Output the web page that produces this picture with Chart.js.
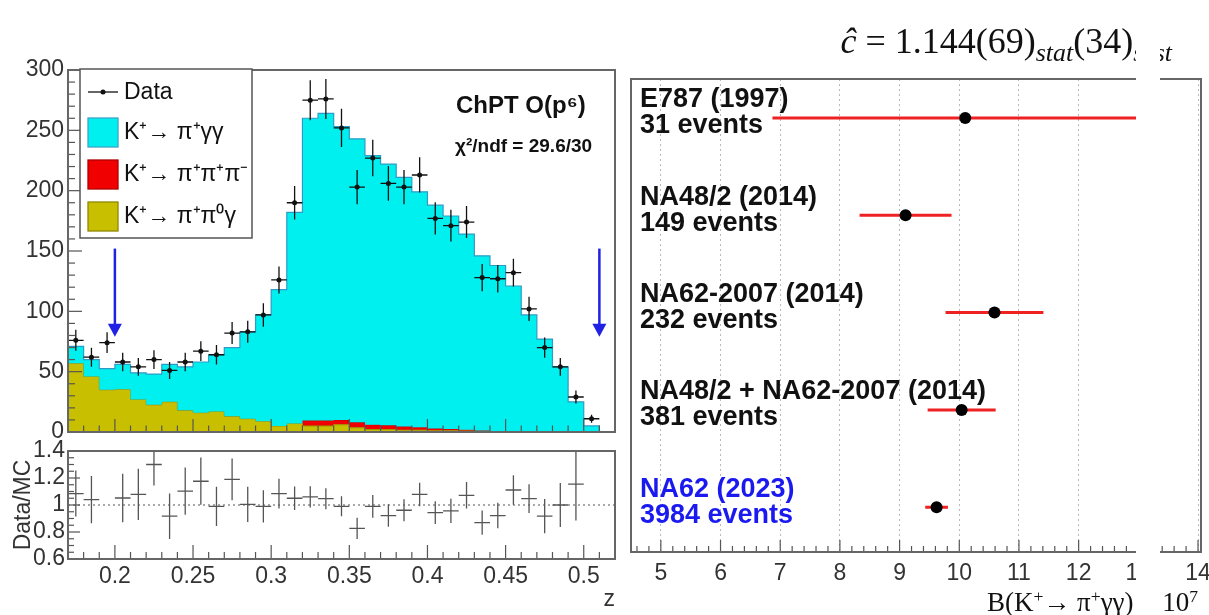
<!DOCTYPE html>
<html>
<head>
<meta charset="utf-8">
<script src="https://cdn.jsdelivr.net/npm/chart.js@4.4.0/dist/chart.umd.min.js"></script>
<style>
  body { margin: 0; width: 1209px; height: 615px; position: relative; overflow: hidden; background: #fff; }
  canvas { position: absolute; }
  #spectrum { left: 0; top: 0; }
  #ratio { left: 0; top: 440px; }
  #summary { left: 625px; top: 0; }
  .serif { position: absolute; font-family: 'Liberation Serif', 'Times New Roman', serif; color: #111; white-space: nowrap; }
  #fitTitle { right: 37px; top: 23px; font-size: 36px; line-height: 36px; }
  #fitTitle sub { font-size: 72%; font-style: italic; vertical-align: -0.3em; line-height: 0; }
  #brTitle { right: 11px; top: 589px; font-size: 27px; line-height: 27px; }
  #brTitle sup { font-size: 65%; vertical-align: 0.5em; line-height: 0; }
  #gap { position: absolute; left: 1136px; top: 0; width: 24px; height: 615px; background: #fff; }
</style>
</head>
<body>
<canvas id="spectrum" width="625" height="440"></canvas>
<canvas id="ratio" width="625" height="175"></canvas>
<canvas id="summary" width="584" height="615"></canvas>
<div id="fitTitle" class="serif"><i>ĉ</i> = 1.144(69)<sub>stat</sub>(34)<sub>syst</sub></div>
<div id="brTitle" class="serif">B(K<sup>+</sup>→ π<sup>+</sup>γγ) × 10<sup>7</sup></div>
<div id="gap"></div>
<script>
Chart.defaults.font.family = "'Liberation Sans', Arial, sans-serif";
Chart.defaults.color = '#222';
Chart.defaults.animation = false;

// z spectrum, bins of 0.01 from 0.17 to 0.52 (bin centres)
const zBins = [0.175, 0.185, 0.195, 0.205, 0.215, 0.225, 0.235, 0.245, 0.255, 0.265,
  0.275, 0.285, 0.295, 0.305, 0.315, 0.325, 0.335, 0.345, 0.355, 0.365,
  0.375, 0.385, 0.395, 0.405, 0.415, 0.425, 0.435, 0.445, 0.455, 0.465,
  0.475, 0.485, 0.495, 0.505, 0.515];
const mcGammaGamma = [14, 14, 17.5, 20.5, 22, 25.5, 31, 36, 42, 47,
  57, 72, 88, 113, 175, 250.5, 254.5, 243, 235, 223,
  216.5, 206.5, 195, 185, 176.5, 162.2, 144.7, 137.1, 120.3, 96.4,
  76.6, 53.7, 24.8, 4.9, 0];
const mcThreePi = [0, 0, 0, 0, 0, 0, 0, 0, 0, 0,
  0, 0, 0, 0, 0, 4.5, 4.5, 4, 4.5, 4,
  3.5, 3, 2.5, 2, 1.5, 1, 0.8, 0.5, 0.4, 0.3,
  0.2, 0.1, 0.1, 0, 0];
const mcPi0Gamma = [57, 46, 35, 35.5, 27, 22.5, 25, 18, 16, 17,
  13, 11, 9, 5, 7, 5, 5, 6, 3.5, 2,
  2, 1.5, 1.5, 1, 1, 0.8, 0.5, 0.4, 0.3, 0.3,
  0.2, 0.2, 0.1, 0.1, 0];

const dataZ = zBins.slice(0, 34);
const dataCounts = [76, 62, 74, 58, 54, 60, 51, 58, 67, 64,
  82, 83, 97, 126, 190, 275, 276, 252, 203, 227,
  206, 203, 213, 177, 171, 174, 128, 127, 132, 102,
  70, 54, 29, 11];
const dataErr = [8.7, 7.9, 8.6, 7.6, 7.3, 7.7, 7.1, 7.6, 8.2, 8.0,
  9.1, 9.1, 9.8, 11.2, 13.8, 16.6, 16.6, 15.9, 14.2, 15.1,
  14.4, 14.2, 14.6, 13.3, 13.1, 13.2, 11.3, 11.3, 11.5, 10.1,
  8.4, 7.3, 5.4, 3.3];

// Data/MC
const ratioZ = [0.175, 0.185, 0.205, 0.215, 0.225, 0.235, 0.245, 0.255, 0.265, 0.275,
  0.285, 0.295, 0.305, 0.315, 0.325, 0.335, 0.345, 0.355, 0.365, 0.375,
  0.385, 0.395, 0.405, 0.415, 0.425, 0.435, 0.445, 0.455, 0.465, 0.475,
  0.485, 0.495];
const ratioVal = [1.085, 1.04, 1.052, 1.078, 1.30, 0.917, 1.103, 1.176, 0.99, 1.19,
  1.005, 0.99, 1.085, 1.05, 1.06, 1.047, 0.99, 0.827, 0.99, 0.922,
  0.961, 1.078, 0.943, 0.956, 1.072, 0.870, 0.922, 1.111, 1.047, 0.917,
  1.0, 1.155];
const ratioErr = [0.17, 0.175, 0.18, 0.19, 0.155, 0.168, 0.175, 0.175, 0.145, 0.155,
  0.13, 0.12, 0.11, 0.087, 0.078, 0.078, 0.074, 0.078, 0.084, 0.084,
  0.082, 0.087, 0.084, 0.09, 0.098, 0.09, 0.095, 0.11, 0.107, 0.127,
  0.163, 0.27];

const zTicks = [0.2, 0.25, 0.3, 0.35, 0.4, 0.45, 0.5];
const ratioTicks = [0.6, 0.8, 1, 1.2, 1.4];
const cutZ = [0.2, 0.51];

// branching ratio summary, units of 1e-7
const experiments = ['E787 (1997)', 'NA48/2 (2014)', 'NA62-2007 (2014)', 'NA48/2 + NA62-2007 (2014)', 'NA62 (2023)'];
const eventCounts = [31, 149, 232, 381, 3984];
const brValue = [10.1, 9.1, 10.59, 10.04, 9.62];
const brErr = [3.23, 0.77, 0.82, 0.57, 0.19];
const rowPos = [5, 4, 3, 2, 1];
const brTicks = [5, 6, 7, 8, 9, 10, 11, 12, 13, 14];

const CYAN = '#00f0f0', RED = '#f00000', OLIVE = '#c8bf00', ARROW = '#2121e6';
const SANS = "'Liberation Sans', Arial, sans-serif";

// vertical error segments, broken by null points
function vBars(xs, ys, es) {
  const out = [];
  xs.forEach((x, i) => out.push({x: x, y: ys[i] - es[i]}, {x: x, y: ys[i] + es[i]}, {x: x, y: null}));
  return out;
}
// horizontal error segments
function hBars(xs, ys, es) {
  const out = [];
  xs.forEach((x, i) => {
    const e = Array.isArray(es) ? es[i] : es;
    out.push({x: x - e, y: ys[i]}, {x: x + e, y: ys[i]}, {x: x + e, y: null});
  });
  return out;
}
// histogram as a step line: one point per lower bin edge plus the last upper edge
function stepLine(values) {
  const pts = zBins.map((z, i) => ({x: z - 0.005, y: values[i]}));
  pts.push({x: zBins[zBins.length - 1] + 0.005, y: values[values.length - 1]});
  return pts;
}
// fixed axis size, no extra room for overhanging end labels
function fixSize(size) {
  return s => {
    if (s.isHorizontal()) s.height = size; else s.width = size;
    s.paddingTop = 0; s.paddingBottom = 0; s.paddingLeft = 0; s.paddingRight = 0;
  };
}

// stacked tops: pi0 gamma, + 3 pi, + gamma gamma
const stackPi0 = mcPi0Gamma.slice();
const stackThreePi = zBins.map((z, i) => mcPi0Gamma[i] + mcThreePi[i]);
const stackTotal = zBins.map((z, i) => mcPi0Gamma[i] + mcThreePi[i] + mcGammaGamma[i]);

// inward ticks and frame, ROOT style
const rootFrame = {
  id: 'rootFrame',
  afterDatasetsDraw(chart, args, opts) {
    const {ctx, chartArea: a} = chart;
    ctx.save();
    ctx.strokeStyle = '#555';
    ctx.lineWidth = 1.2;
    (opts.axes || []).forEach(ax => {
      const s = chart.scales[ax.id];
      const first = Math.ceil(s.min / ax.minor - 1e-6);
      const last = Math.floor(s.max / ax.minor + 1e-6);
      for (let k = first; k <= last; k++) {
        const v = k * ax.minor;
        const major = Math.abs(v / ax.major - Math.round(v / ax.major)) < 1e-6;
        const len = major ? ax.len : ax.len / 2;
        const p = s.getPixelForValue(v);
        ctx.beginPath();
        if (s.isHorizontal()) { ctx.moveTo(p, a.bottom); ctx.lineTo(p, a.bottom - len); }
        else { ctx.moveTo(a.left, p); ctx.lineTo(a.left + len, p); }
        ctx.stroke();
      }
    });
    ctx.strokeStyle = '#666';
    ctx.lineWidth = 2;
    ctx.strokeRect(a.left, a.top, a.right - a.left, a.bottom - a.top);
    ctx.restore();
  }
};

// legend, fit label and cut arrows
const spectrumNotes = {
  id: 'spectrumNotes',
  afterDraw(chart) {
    const {ctx} = chart;
    const sx = chart.scales.x, sy = chart.scales.y;
    ctx.save();
    ctx.strokeStyle = ARROW;
    ctx.fillStyle = ARROW;
    ctx.lineWidth = 2.5;
    cutZ.forEach(z => {
      const px = sx.getPixelForValue(z);
      const top = sy.getPixelForValue(152), tip = sy.getPixelForValue(79);
      ctx.beginPath(); ctx.moveTo(px, top); ctx.lineTo(px, tip - 10); ctx.stroke();
      ctx.beginPath(); ctx.moveTo(px - 7, tip - 13); ctx.lineTo(px + 7, tip - 13); ctx.lineTo(px, tip); ctx.closePath(); ctx.fill();
    });

    ctx.fillStyle = '#fff';
    ctx.fillRect(80, 69, 172, 169);
    ctx.strokeStyle = '#555';
    ctx.lineWidth = 1.5;
    ctx.strokeRect(80, 69, 172, 169);
    ctx.font = '23px ' + SANS;
    ctx.textBaseline = 'middle';
    ctx.strokeStyle = '#111';
    ctx.lineWidth = 1.3;
    ctx.beginPath(); ctx.moveTo(88, 92); ctx.lineTo(118, 92); ctx.stroke();
    ctx.fillStyle = '#111';
    ctx.beginPath(); ctx.arc(103, 92, 2.5, 0, Math.PI * 2); ctx.fill();
    ctx.fillText('Data', 124, 93);
    [[CYAN, '#3aa6c9', 'K⁺→ π⁺γγ', 133], [RED, '#b00000', 'K⁺→ π⁺π⁺π⁻', 175], [OLIVE, '#8f8800', 'K⁺→ π⁺π⁰γ', 217]].forEach(e => {
      ctx.fillStyle = e[0];
      ctx.fillRect(88, e[3] - 15, 30, 29);
      ctx.strokeStyle = e[1];
      ctx.strokeRect(88, e[3] - 15, 30, 29);
      ctx.fillStyle = '#111';
      ctx.fillText(e[2], 124, e[3]);
    });

    ctx.font = 'bold 24px ' + SANS;
    ctx.fillText('ChPT O(p⁶)', 456, 106);
    ctx.font = 'bold 19px ' + SANS;
    ctx.fillText('χ²/ndf = 29.6/30', 455, 147);
    ctx.restore();
  }
};

// experiment names next to each measurement
const summaryLabels = {
  id: 'summaryLabels',
  beforeDatasetsDraw(chart) {
    const {ctx} = chart;
    const sy = chart.scales.y;
    ctx.save();
    ctx.font = 'bold 27px ' + SANS;
    ctx.textBaseline = 'middle';
    experiments.forEach((name, i) => {
      const py = sy.getPixelForValue(rowPos[i]);
      ctx.fillStyle = i === experiments.length - 1 ? '#1a1af0' : '#111';
      ctx.fillText(name, 15, py - 18);
      ctx.fillText(eventCounts[i] + ' events', 15, py + 8);
    });
    ctx.restore();
  }
};

const tickFont = {size: 23};
const stepStyle = {type: 'line', stepped: 'before', pointRadius: 0, borderWidth: 1};

new Chart(document.getElementById('spectrum'), {
  type: 'scatter',
  data: {
    datasets: [
      Object.assign({label: 'K+ → π+π0γ', data: stepLine(stackPi0), backgroundColor: OLIVE,
        borderColor: '#9c9400', fill: 'origin', order: 3}, stepStyle),
      Object.assign({label: 'K+ → π+π+π-', data: stepLine(stackThreePi), backgroundColor: RED,
        borderColor: '#c00000', fill: '-1', order: 3}, stepStyle),
      Object.assign({label: 'K+ → π+γγ', data: stepLine(stackTotal), backgroundColor: CYAN,
        borderColor: '#2f9bc4', fill: '-1', order: 2}, stepStyle, {borderWidth: 1.2}),
      {type: 'line', data: vBars(dataZ, dataCounts, dataErr), borderColor: '#111', borderWidth: 1.3,
        pointRadius: 0, order: 1},
      {type: 'line', data: hBars(dataZ, dataCounts, 0.005), borderColor: '#111', borderWidth: 1.3,
        pointRadius: 0, order: 1},
      {label: 'Data', data: dataZ.map((z, i) => ({x: z, y: dataCounts[i]})), pointRadius: 2.5,
        pointBackgroundColor: '#111', pointBorderWidth: 0, order: 0}
    ]
  },
  options: {
    responsive: false,
    layout: {padding: {top: 70, right: 10, bottom: 8, left: 0}},
    plugins: {
      legend: {display: false},
      tooltip: {enabled: false},
      filler: {propagate: false},
      rootFrame: {axes: [{id: 'x', major: 0.05, minor: 0.01, len: 13}, {id: 'y', major: 50, minor: 10, len: 14}]}
    },
    scales: {
      x: {type: 'linear', display: false, min: 0.17, max: 0.52},
      y: {
        type: 'linear', min: 0, max: 300,
        afterFit: fixSize(68),
        ticks: {stepSize: 50, font: tickFont, color: '#333', padding: 4},
        grid: {display: false, drawTicks: false},
        border: {display: false}
      }
    }
  },
  plugins: [rootFrame, spectrumNotes]
});

new Chart(document.getElementById('ratio'), {
  type: 'scatter',
  data: {
    datasets: [
      {type: 'line', data: [{x: 0.17, y: 1}, {x: 0.52, y: 1}], borderColor: '#555', borderWidth: 1.2,
        borderDash: [2, 3], pointRadius: 0},
      {type: 'line', data: vBars(ratioZ, ratioVal, ratioErr), borderColor: '#555', borderWidth: 1.3, pointRadius: 0},
      {type: 'line', data: hBars(ratioZ, ratioVal, 0.005), borderColor: '#555', borderWidth: 1.3, pointRadius: 0}
    ]
  },
  options: {
    responsive: false,
    layout: {padding: {top: 11, right: 10, bottom: 0, left: 0}},
    plugins: {
      legend: {display: false},
      tooltip: {enabled: false},
      rootFrame: {axes: [{id: 'x', major: 0.05, minor: 0.01, len: 14}, {id: 'y', major: 0.2, minor: 0.05, len: 12}]}
    },
    scales: {
      x: {
        type: 'linear', min: 0.17, max: 0.52,
        afterBuildTicks: s => { s.ticks = zTicks.map(v => ({value: v})); },
        afterFit: fixSize(56),
        ticks: {font: tickFont, color: '#333', padding: 4, autoSkip: false, maxRotation: 0,
          callback: v => String(+v.toFixed(2))},
        grid: {display: false, drawTicks: false},
        border: {display: false},
        title: {display: true, text: 'z', align: 'end', font: {size: 23}, color: '#333', padding: {top: 0, bottom: 2}}
      },
      y: {
        type: 'linear', min: 0.6, max: 1.4,
        afterBuildTicks: s => { s.ticks = ratioTicks.map(v => ({value: v})); },
        afterFit: fixSize(68),
        ticks: {font: tickFont, color: '#333', padding: 3, autoSkip: false, callback: v => String(+v.toFixed(2))},
        grid: {display: false, drawTicks: false},
        border: {display: false},
        title: {display: true, text: 'Data/MC', font: {size: 23}, color: '#333', padding: {top: 10, bottom: 0}}
      }
    }
  },
  plugins: [rootFrame]
});

new Chart(document.getElementById('summary'), {
  type: 'scatter',
  data: {
    datasets: [
      {data: brValue.map((v, i) => ({x: v, y: rowPos[i]})), pointRadius: 6, pointBackgroundColor: '#000',
        pointBorderWidth: 0, order: 0},
      {type: 'line', data: hBars(brValue, rowPos, brErr), borderColor: '#ee2222', borderWidth: 3, pointRadius: 0, order: 1}
    ]
  },
  options: {
    responsive: false,
    layout: {padding: {top: 79, right: 8, bottom: 0, left: 3}},
    plugins: {
      legend: {display: false},
      tooltip: {enabled: false},
      rootFrame: {axes: [{id: 'x', major: 1, minor: 0.2, len: 12}]}
    },
    scales: {
      x: {
        type: 'linear', min: 4.5, max: 14.05,
        afterBuildTicks: s => { s.ticks = brTicks.map(v => ({value: v})); },
        afterFit: fixSize(63),
        ticks: {font: tickFont, color: '#333', padding: 8, autoSkip: false, maxRotation: 0},
        grid: {color: '#b8b8b8', lineWidth: 1, drawTicks: false},
        border: {display: false, dash: [2, 3]}
      },
      y: {type: 'linear', display: false, min: 0.54, max: 5.4}
    }
  },
  plugins: [rootFrame, summaryLabels]
});
</script>
</body>
</html>
